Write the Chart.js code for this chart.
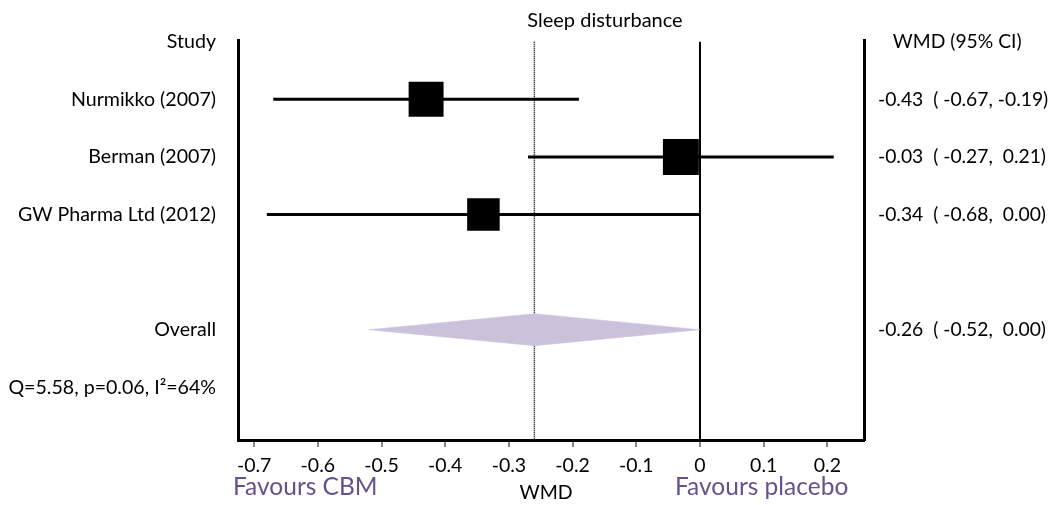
<!DOCTYPE html>
<html>
<head>
<meta charset="utf-8">
<script src="https://cdn.jsdelivr.net/npm/chart.js@4.4.1/dist/chart.umd.min.js"></script>
<style>
  html, body { margin: 0; padding: 0; background: #fff; }
  #wrap { width: 1051px; height: 505px; position: relative; }
</style>
</head>
<body>
<div id="wrap"><canvas id="c" width="1051" height="505"></canvas></div>
<script>
// ---------------- data ----------------
const studies   = ['Nurmikko (2007)', 'Berman (2007)', 'GW Pharma Ltd (2012)'];
const estimates = [-0.43, -0.03, -0.34];
const lower     = [-0.67, -0.27, -0.68];
const upper     = [-0.19,  0.21,  0.00];
const studyRows = [1, 2, 3];

const overallLabel = 'Overall';
const overallEst   = -0.26;
const overallLow   = -0.52;
const overallHigh  = 0.00;
const overallRow   = 5;

const heterogeneity = 'Q=5.58, p=0.06, I\u00B2=64%';
const hetRow = 6;

const leftHeader  = 'Study';
const rightHeader = 'WMD (95% CI)';
const ciText = ['-0.43  ( -0.67, -0.19)', '-0.03  ( -0.27,  0.21)', '-0.34  ( -0.68,  0.00)'];
const overallCiText = '-0.26  ( -0.52,  0.00)';

const xTickValues = [-0.7, -0.6, -0.5, -0.4, -0.3, -0.2, -0.1, 0, 0.1, 0.2];
const xTickLabels = ['-0.7', '-0.6', '-0.5', '-0.4', '-0.3', '-0.2', '-0.1', '0', '0.1', '0.2'];

const titleText = 'Sleep disturbance';
const favoursLeft = 'Favours CBM';
const favoursRight = 'Favours placebo';
const xAxisName = 'WMD';

// ---------------- styles ----------------
const FONT = 'Lato, "Open Sans", sans-serif';
const boxRadius = [24.7, 25.4, 23.0];   // marker half-size style for 'rect'
const diamondHalfHeight = 0.278;        // in row units
const X_MIN = -0.7253, X_MAX = 0.2575;
const Y_MIN = -0.03,   Y_MAX = 6.915;
const PURPLE = '#65528C';
const DIAMOND = '#CBC1DA';

// ---------------- build ----------------
const leftLabels = {};
leftLabels[0] = leftHeader;
studies.forEach((s, i) => leftLabels[studyRows[i]] = s);
leftLabels[overallRow] = overallLabel;
leftLabels[hetRow] = heterogeneity;

const rightLabels = {};
rightLabels[0] = '   ' + rightHeader;
ciText.forEach((s, i) => rightLabels[studyRows[i]] = s);
rightLabels[overallRow] = overallCiText;

const datasets = [];

// squares
datasets.push({
  type: 'scatter',
  data: estimates.map((e, i) => ({ x: e, y: studyRows[i] })),
  pointStyle: 'rect',
  pointRadius: boxRadius,
  pointHoverRadius: boxRadius,
  backgroundColor: '#000',
  borderColor: '#000',
  borderWidth: 0,
  order: 0,
  clip: false
});

// overall diamond
datasets.push({
  type: 'scatter',
  showLine: true,
  data: [
    { x: overallLow,  y: overallRow },
    { x: overallEst,  y: overallRow - diamondHalfHeight },
    { x: overallHigh, y: overallRow },
    { x: overallEst,  y: overallRow + diamondHalfHeight },
    { x: overallLow,  y: overallRow }
  ],
  fill: 'shape',
  backgroundColor: DIAMOND,
  borderColor: DIAMOND,
  borderWidth: 0.5,
  pointRadius: 0,
  tension: 0,
  order: 1
});

// confidence interval lines
studies.forEach((s, i) => {
  datasets.push({
    type: 'scatter',
    showLine: true,
    data: [{ x: lower[i], y: studyRows[i] }, { x: upper[i], y: studyRows[i] }],
    borderColor: '#000',
    borderWidth: 3,
    pointRadius: 0,
    order: 2
  });
});

// line of no effect
datasets.push({
  type: 'scatter',
  showLine: true,
  data: [{ x: 0, y: Y_MIN + 0.03 }, { x: 0, y: Y_MAX }],
  borderColor: '#000',
  borderWidth: 2,
  pointRadius: 0,
  order: 3
});

// pooled estimate dotted line
datasets.push({
  type: 'scatter',
  showLine: true,
  data: [{ x: overallEst, y: Y_MIN + 0.03 }, { x: overallEst, y: Y_MAX }],
  borderColor: '#000',
  borderWidth: 1.5,
  borderDash: [1, 1],
  pointRadius: 0,
  order: 4
});

const textPlugin = {
  id: 'extraText',
  afterDraw(chart) {
    const ctx = chart.ctx;
    ctx.save();
    ctx.fillStyle = '#000';
    ctx.textBaseline = 'alphabetic';
    ctx.font = '20px ' + FONT;
    ctx.textAlign = 'center';
    ctx.fillText(titleText, 605, 27);
    ctx.font = '19.5px ' + FONT;
    ctx.fillText(xAxisName, 546, 499);
    ctx.fillStyle = PURPLE;
    ctx.font = '24.5px ' + FONT;
    ctx.textAlign = 'left';
    ctx.fillText(favoursLeft, 233, 495);
    ctx.fillText(favoursRight, 675, 495);
    ctx.restore();
  }
};

new Chart(document.getElementById('c'), {
  type: 'scatter',
  data: { datasets },
  plugins: [textPlugin],
  options: {
    responsive: false,
    animation: false,
    layout: { padding: { top: 40, left: 0, right: 0, bottom: 0 } },
    plugins: { legend: { display: false }, tooltip: { enabled: false }, title: { display: false } },
    scales: {
      x: {
        type: 'linear',
        min: X_MIN, max: X_MAX,
        afterBuildTicks: (s) => { s.ticks = xTickValues.map(v => ({ value: v })); },
        afterFit: (s) => { s.height = 65; },
        ticks: {
          callback: (v) => { const i = xTickValues.findIndex(t => Math.abs(t - v) < 1e-9); return i >= 0 ? xTickLabels[i] : ''; },
          color: '#000',
          font: { family: FONT, size: 19.5 },
          padding: 7,
          maxRotation: 0,
          autoSkip: false
        },
        grid: { display: true, drawOnChartArea: false, drawTicks: true, tickLength: 7, color: '#888', lineWidth: 2 },
        border: { display: true, color: '#000', width: 3 }
      },
      y: {
        type: 'linear',
        position: 'left',
        reverse: true,
        min: Y_MIN, max: Y_MAX,
        afterBuildTicks: (s) => { s.ticks = [0, 1, 2, 3, 4, 5, 6].map(v => ({ value: v })); },
        afterFit: (s) => { s.width = 238; },
        ticks: {
          callback: (v) => leftLabels[v] !== undefined ? leftLabels[v] : '',
          color: '#000',
          font: { family: FONT, size: 19.6 },
          padding: 22,
          autoSkip: false
        },
        grid: { display: true, drawOnChartArea: false, drawTicks: false },
        border: { display: true, color: '#000', width: 3 }
      },
      y2: {
        type: 'linear',
        position: 'right',
        reverse: true,
        min: Y_MIN, max: Y_MAX,
        afterBuildTicks: (s) => { s.ticks = [0, 1, 2, 3, 4, 5, 6].map(v => ({ value: v })); },
        afterFit: (s) => { s.width = 187; },
        ticks: {
          callback: (v) => rightLabels[v] !== undefined ? rightLabels[v] : '',
          color: '#000',
          font: { family: FONT, size: 19.3 },
          padding: 14,
          autoSkip: false
        },
        grid: { display: true, drawOnChartArea: false, drawTicks: false },
        border: { display: true, color: '#000', width: 3 }
      }
    }
  }
});
</script>
</body>
</html>
